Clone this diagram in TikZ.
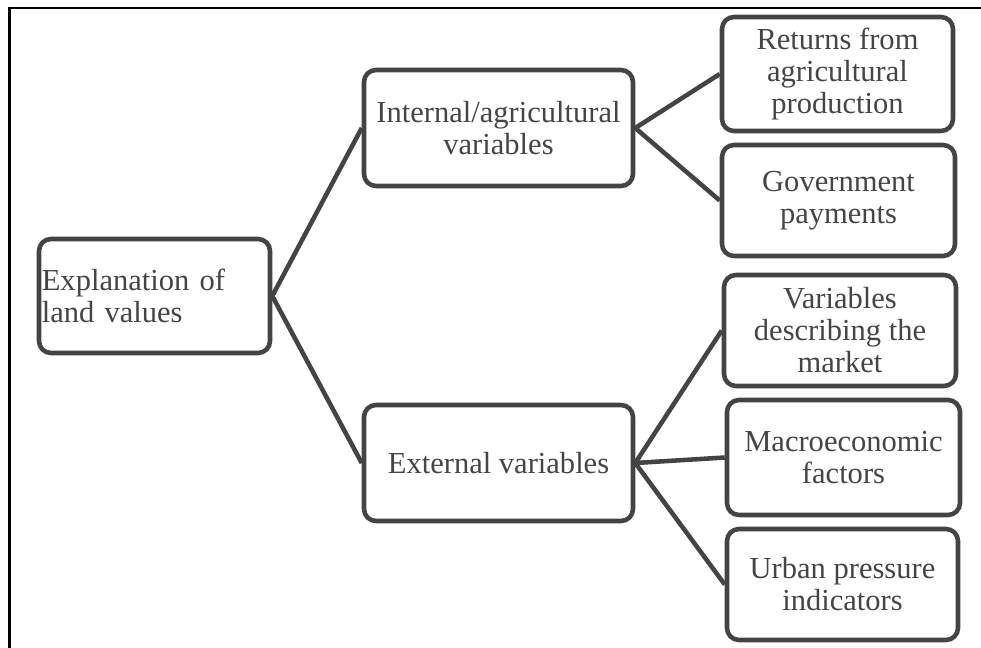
\documentclass[tikz,border=0pt]{standalone}
\usepackage{fontspec}
\setmainfont{Liberation Serif}
\definecolor{boxline}{HTML}{444444}
\definecolor{boxtext}{HTML}{454545}
\begin{document}
\begin{tikzpicture}[x=0.75pt,y=-0.75pt,
  boxnode/.style={draw=boxline, line width=3.4pt, rounded corners=9pt, fill=white,
    text=boxtext, font=\fontsize{22.9pt}{24pt}\selectfont, inner sep=0pt, align=center},
  conn/.style={draw=boxline, line width=3.4pt}]
\useasboundingbox (0,0) rectangle (981,648);
% frame (top and left only visible)
\draw[black, line width=2.2pt] (9.5,648) -- (9.5,8) -- (981,8);

\node[boxnode, minimum width=173.25pt, minimum height=85.5pt, align=left, text width=169pt] (root) at (154.5,296) {Explanation of\\land values};
\node[boxnode, minimum width=201.75pt, minimum height=87pt] (int) at (498.5,128) {Internal/agricultural\\variables};
\node[boxnode, minimum width=201.75pt, minimum height=87pt] (ext) at (498.5,463) {External variables};
\node[boxnode, minimum width=173.25pt, minimum height=85.5pt] (ret) at (837.5,74) {Returns from\\agricultural\\production};
\node[boxnode, minimum width=174.75pt, minimum height=83.25pt] (gov) at (838.5,200.5) {Government\\payments};
\node[boxnode, minimum width=174pt, minimum height=83.25pt] (var) at (840,330.5) {Variables\\describing the\\market};
\node[boxnode, minimum width=174.75pt, minimum height=86.25pt] (mac) at (843.5,457.5) {Macroeconomic\\factors};
\node[boxnode, minimum width=173.25pt, minimum height=83.25pt] (urb) at (842.5,584.5) {Urban pressure\\indicators};

\draw[conn] (root.east) -- (int.west);
\draw[conn] (root.east) -- (ext.west);
\draw[conn] (int.east) -- (ret.west);
\draw[conn] (int.east) -- (gov.west);
\draw[conn] (ext.east) -- (var.west);
\draw[conn] (ext.east) -- (mac.west);
\draw[conn] (ext.east) -- (urb.west);
\end{tikzpicture}
\end{document}
